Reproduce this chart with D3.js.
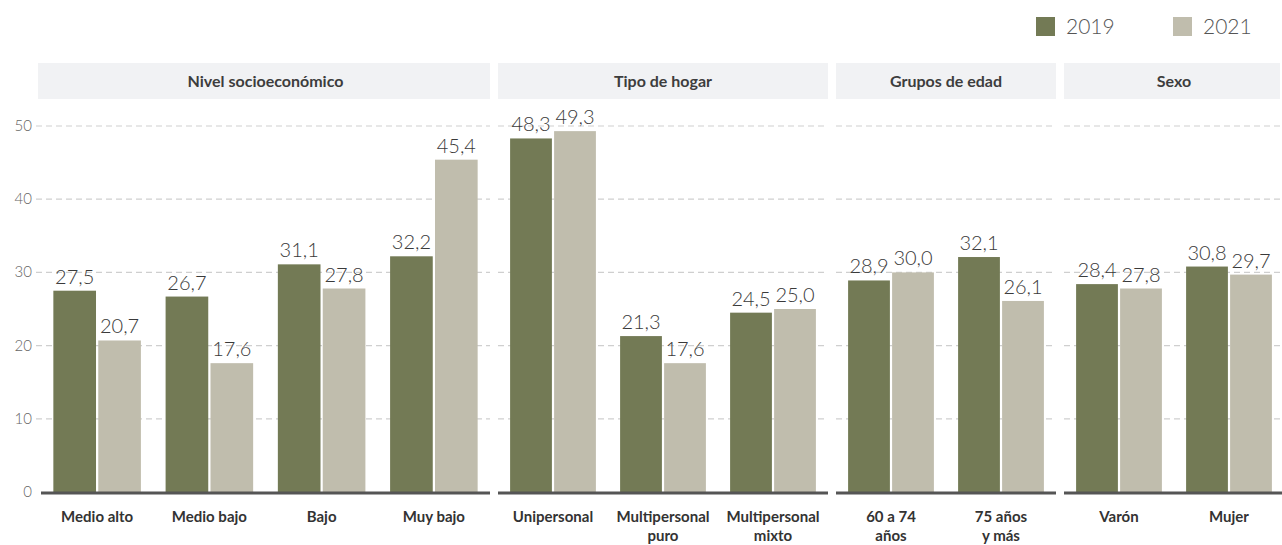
<!DOCTYPE html>
<html>
<head>
<meta charset="utf-8">
<script src="https://cdn.jsdelivr.net/npm/d3@7"></script>
<style>
  body { margin: 0; background: #fff; }
  svg { font-family: Lato, "Open Sans", sans-serif; }
</style>
</head>
<body>
<div id="chart"></div>
<script>
var groups = ["Nivel socioeconómico", "Tipo de hogar", "Grupos de edad", "Sexo"];
var categories = [
  ["Medio alto"], ["Medio bajo"], ["Bajo"], ["Muy bajo"],
  ["Unipersonal"], ["Multipersonal", "puro"], ["Multipersonal", "mixto"],
  ["60 a 74", "años"], ["75 años", "y más"],
  ["Varón"], ["Mujer"]
];
var groupOf = [0, 0, 0, 0, 1, 1, 1, 2, 2, 3, 3];
var series = ["2019", "2021"];
var values2019 = [27.5, 26.7, 31.1, 32.2, 48.3, 21.3, 24.5, 28.9, 32.1, 28.4, 30.8];
var values2021 = [20.7, 17.6, 27.8, 45.4, 49.3, 17.6, 25.0, 30.0, 26.1, 27.8, 29.7];
var yTicks = [0, 10, 20, 30, 40, 50];

var colors = ["#737a55", "#c0bdad"];
var w = 1282, h = 545;
var left = 41, right = 1284, gap = 8, step = 110;
var y0 = 492, yTop = 126;

var svg = d3.select("#chart").append("svg")
    .attr("width", w)
    .attr("height", h);

var y = d3.scaleLinear().domain([0, 50]).range([y0, yTop]);

// panels laid out from the right, first one takes what's left
var counts = groups.map(function(g, gi) {
    return groupOf.filter(function(d) { return d === gi; }).length;
});
var panels = [];
var cur = right;
for (var k = groups.length - 1; k >= 0; k--) {
    var x0 = k === 0 ? left : cur - counts[k] * step;
    panels[k] = { name: groups[k], x0: x0, x1: cur, idx: [] };
    cur = x0 - gap;
}
groupOf.forEach(function(g, i) { panels[g].idx.push(i); });

panels.forEach(function(p, pi) {
    var g = svg.append("g");
    var x = d3.scaleBand().domain(p.idx).range([p.x0, p.x1])
        .paddingInner(0.22).paddingOuter(0.11);
    var xs = d3.scaleBand().domain(series).range([0, x.bandwidth()]).paddingInner(0.05);

    // header
    g.append("rect")
        .attr("x", pi === 0 ? p.x0 - 3 : p.x0)
        .attr("y", 63)
        .attr("width", p.x1 - p.x0 + (pi === 0 ? 3 : 0) - (pi === 3 ? 4 : 0))
        .attr("height", 36)
        .attr("fill", "#f1f2f4");
    g.append("text")
        .attr("x", (p.x0 + p.x1) / 2)
        .attr("y", 87)
        .attr("text-anchor", "middle")
        .attr("font-size", "16px")
        .attr("font-weight", "bold")
        .attr("fill", "#3d3d3d")
        .text(p.name);

    // grid
    g.selectAll("line.grid")
        .data(yTicks.filter(function(t) { return t > 0; }))
        .enter()
        .append("line")
        .attr("class", "grid")
        .attr("x1", pi === 0 ? 36 : p.x0)
        .attr("x2", p.x1)
        .attr("y1", function(d) { return y(d); })
        .attr("y2", function(d) { return y(d); })
        .attr("stroke", "#cfcfcf")
        .attr("stroke-width", 1.2)
        .attr("stroke-dasharray", "6,4");

    // bars
    var rows = p.idx.map(function(i) {
        return [values2019[i], values2021[i]].map(function(v, s) {
            return { i: i, s: s, v: v };
        });
    });
    var flat = [].concat.apply([], rows);

    g.selectAll("rect.bar")
        .data(flat)
        .enter()
        .append("rect")
        .attr("class", "bar")
        .attr("x", function(d) { return x(d.i) + xs(series[d.s]); })
        .attr("y", function(d) { return y(d.v); })
        .attr("width", xs.bandwidth())
        .attr("height", function(d) { return y0 - y(d.v); })
        .attr("fill", function(d) { return colors[d.s]; });

    g.selectAll("text.val")
        .data(flat)
        .enter()
        .append("text")
        .attr("class", "val")
        .attr("x", function(d) { return x(d.i) + xs(series[d.s]) + xs.bandwidth() / 2; })
        .attr("y", function(d) { return y(d.v) - 7; })
        .attr("text-anchor", "middle")
        .attr("font-size", "20px")
        .attr("font-weight", 300)
        .attr("fill", "#3a3a3a")
        .text(function(d) { return d.v.toFixed(1).replace(".", ","); });

    // baseline
    g.append("line")
        .attr("x1", p.x0).attr("x2", p.x1)
        .attr("y1", y0 + 1).attr("y2", y0 + 1)
        .attr("stroke", "#555")
        .attr("stroke-width", 3);

    // category labels
    var lab = g.selectAll("text.cat")
        .data(p.idx)
        .enter()
        .append("text")
        .attr("class", "cat")
        .attr("x", function(d) { return x(d) + x.bandwidth() / 2; })
        .attr("y", 522)
        .attr("text-anchor", "middle")
        .attr("font-size", "15px")
        .attr("font-weight", "bold")
        .attr("fill", "#333");
    lab.selectAll("tspan")
        .data(function(d) { return categories[d]; })
        .enter()
        .append("tspan")
        .attr("x", function() { return d3.select(this.parentNode).attr("x"); })
        .attr("dy", function(d, k) { return k === 0 ? 0 : 19; })
        .text(function(d) { return d; });
});

// y tick labels
svg.selectAll("text.ytick")
    .data(yTicks)
    .enter()
    .append("text")
    .attr("class", "ytick")
    .attr("x", 32)
    .attr("y", function(d) { return y(d) + 5; })
    .attr("text-anchor", "end")
    .attr("font-size", "15px")
    .attr("font-weight", 300)
    .attr("fill", "#666")
    .text(function(d) { return d; });

// legend
var legX = [1036, 1173];
series.forEach(function(s, i) {
    svg.append("rect")
        .attr("x", legX[i]).attr("y", 17)
        .attr("width", 19).attr("height", 19)
        .attr("fill", colors[i]);
    svg.append("text")
        .attr("x", legX[i] + 30)
        .attr("y", 34)
        .attr("font-size", "21px")
        .attr("font-weight", 300)
        .attr("fill", "#555")
        .text(s);
});
</script>
</body>
</html>
